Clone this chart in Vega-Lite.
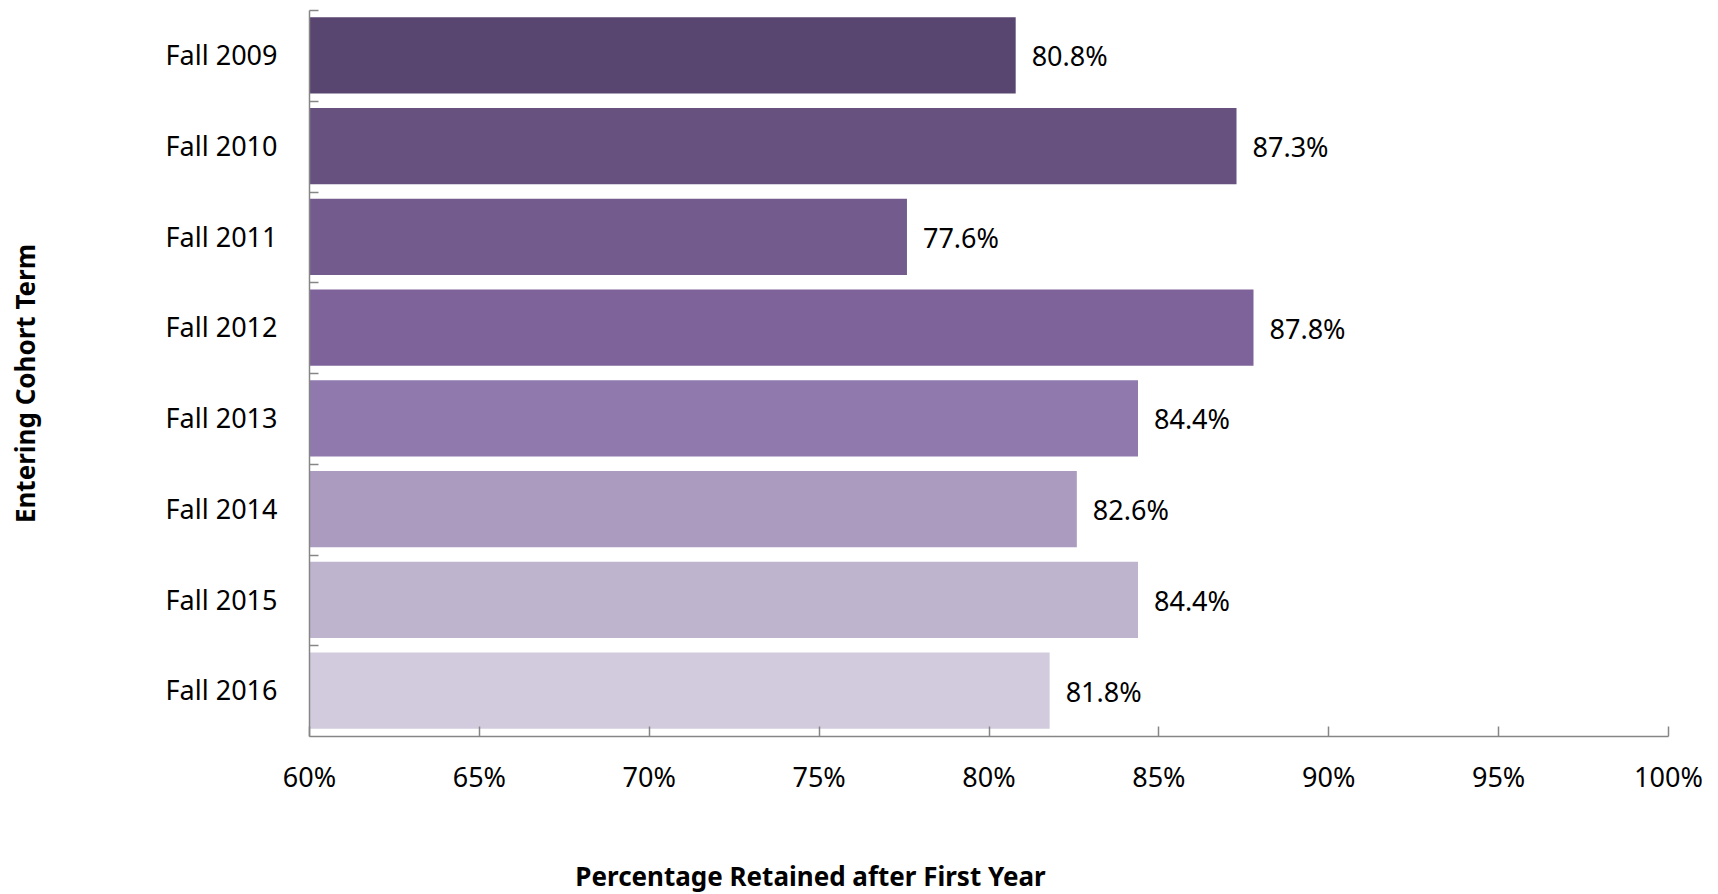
{
  "$schema": "https://vega.github.io/schema/vega-lite/v6.json",
  "autosize": {"type": "none"},
  "padding": {"left": 309, "top": 10, "right": 50, "bottom": 158},
  "width": 1359,
  "height": 726,
  "background": "white",
  "config": {
    "font": "Noto Sans",
    "view": {"stroke": null}
  },
  "data": {
    "values": [
      {"term": "Fall 2009", "rate": 0.808, "label": "80.8%", "color": "#584570"},
      {"term": "Fall 2010", "rate": 0.873, "label": "87.3%", "color": "#67527f"},
      {"term": "Fall 2011", "rate": 0.776, "label": "77.6%", "color": "#735b8e"},
      {"term": "Fall 2012", "rate": 0.878, "label": "87.8%", "color": "#7e639a"},
      {"term": "Fall 2013", "rate": 0.844, "label": "84.4%", "color": "#8f79ad"},
      {"term": "Fall 2014", "rate": 0.826, "label": "82.6%", "color": "#ab9bbf"},
      {"term": "Fall 2015", "rate": 0.844, "label": "84.4%", "color": "#bfb4ce"},
      {"term": "Fall 2016", "rate": 0.818, "label": "81.8%", "color": "#d2cbdd"}
    ]
  },
  "encoding": {
    "y": {
      "field": "term",
      "type": "nominal",
      "sort": null,
      "scale": {"paddingInner": 0.16, "paddingOuter": 0.08},
      "axis": {
        "title": "Entering Cohort Term",
        "titleFont": "Noto Sans",
        "titleFontSize": 26,
        "titleFontWeight": "bold",
        "titleColor": "#000000",
        "titleAngle": -90,
        "titleBaseline": "alphabetic",
        "titleAlign": "center",
        "titleX": -275,
        "titleY": 373,
        "tickOffset": -45.375,
        "labelOffset": 46.5,
        "labelFontSize": 27,
        "labelColor": "#000000",
        "labelPadding": 41,
        "ticks": true,
        "tickSize": -9,
        "tickColor": "#868686",
        "tickWidth": 1.5,
        "tickOpacity": 1,
        "domainColor": "#868686",
        "domainWidth": 1.5,
        "grid": false,
        "zindex": 1
      }
    }
  },
  "layer": [
    {
      "mark": {"type": "bar"},
      "encoding": {
        "x": {
          "field": "rate",
          "type": "quantitative",
          "scale": {"domain": [0.6, 1], "zero": false, "nice": false},
          "axis": {
            "title": "Percentage Retained after First Year",
            "titleFont": "Noto Sans",
            "titleFontSize": 26,
            "titleFontWeight": "bold",
            "titleColor": "#000000",
            "titleBaseline": "alphabetic",
            "titleAlign": "center",
            "titleAnchor": "start",
            "titleX": 501,
            "titleY": 149,
            "values": [0.6, 0.65, 0.7, 0.75, 0.8, 0.85, 0.9, 0.95, 1.0],
            "format": ".0%",
            "labelFlush": false,
            "labelFontSize": 27,
            "labelColor": "#000000",
            "labelPadding": 39,
            "tickSize": -10,
            "tickColor": "#868686",
            "tickWidth": 1.5,
            "domainColor": "#868686",
            "domainWidth": 1.5,
            "grid": false,
            "zindex": 1
          }
        },
        "x2": {"datum": 0.6},
        "color": {"field": "color", "type": "nominal", "scale": null, "legend": null}
      }
    },
    {
      "mark": {"type": "text", "align": "left", "baseline": "middle", "dx": 16, "dy": 3, "fontSize": 27, "color": "#000000"},
      "encoding": {
        "x": {"field": "rate", "type": "quantitative"},
        "text": {"field": "label"}
      }
    }
  ]
}
